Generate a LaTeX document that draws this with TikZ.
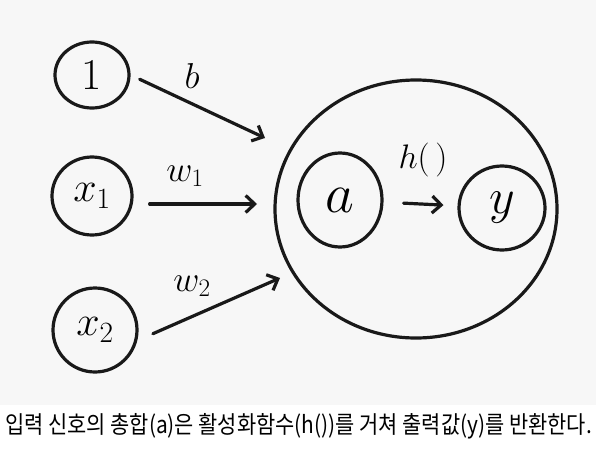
\documentclass[tikz,border=0pt]{standalone}
\usepackage{fix-cm}
\usepackage{fontspec}
\newfontfamily\kr[FakeStretch=0.87]{Noto Sans CJK KR}
\usetikzlibrary{shapes.geometric,arrows.meta}
\definecolor{bg}{HTML}{F7F7F7}
\tikzset{
  hand/.style={line width=3.2pt, draw=black!90},
  circ/.style={hand, ellipse, inner sep=0pt},
  arr/.style={hand, line cap=round, -{Straight Barb[length=9pt,width=17pt,line width=3.2pt]}},
  lbl/.style={inner sep=0pt},
}
\begin{document}
\begin{tikzpicture}[x=1pt,y=-1pt]
\useasboundingbox (0,0) rectangle (596,460);
\fill[bg] (0,0) rectangle (596,405);
\fill[white] (0,405) rectangle (596,460);
% input nodes
\node[circ, minimum width=74pt, minimum height=66pt, font=\fontsize{44}{44}\selectfont] (one) at (92,75) {1};
\node[circ, minimum width=80pt, minimum height=78pt, font=\fontsize{42}{42}\selectfont] (x1) at (92,196) {$x_1$};
\node[circ, minimum width=84pt, minimum height=84pt, font=\fontsize{42}{42}\selectfont] (x2) at (95,330) {$x_2$};
% neuron
\node[circ, minimum width=282pt, minimum height=258pt] (big) at (416,209) {};
\node[circ, minimum width=84pt, minimum height=94pt, font=\fontsize{56}{56}\selectfont] (a) at (340,200) {$a$};
\node[circ, minimum width=86pt, minimum height=84pt, font=\fontsize{50}{50}\selectfont] (y) at (502,208) {$y$};
% arrow end points
\coordinate (bEnd) at (265,138);
\coordinate (wOneEnd) at (257,204);
\coordinate (wTwoEnd) at (280,278);
\draw[arr, shorten <=10pt] (one.east) -- (bEnd);
\draw[arr, shorten <=16pt] (x1.east |- wOneEnd) -- (wOneEnd);
\draw[arr, shorten <=17pt] (x2.-14) -- (wTwoEnd);
\draw[arr, shorten <=20pt, shorten >=14pt] (a) -- (y);
% labels
\node[lbl, font=\fontsize{36}{36}\selectfont] (lb) at (192,76) {$b$};
\node[lbl, font=\fontsize{36}{36}\selectfont] (lw1) at (185,176) {$w_1$};
\node[lbl, font=\fontsize{36}{36}\selectfont] (lw2) at (192,286) {$w_2$};
\node[lbl, font=\fontsize{34}{34}\selectfont] (lh) at (423,160) {$h(\,)$};
% caption
\node[lbl, anchor=west, font=\kr\fontsize{24}{24}\selectfont] (cap) at (5,426) {입력 신호의 총합(a)은 활성화함수(h())를 거쳐 출력값(y)를 반환한다.};
\end{tikzpicture}
\end{document}
